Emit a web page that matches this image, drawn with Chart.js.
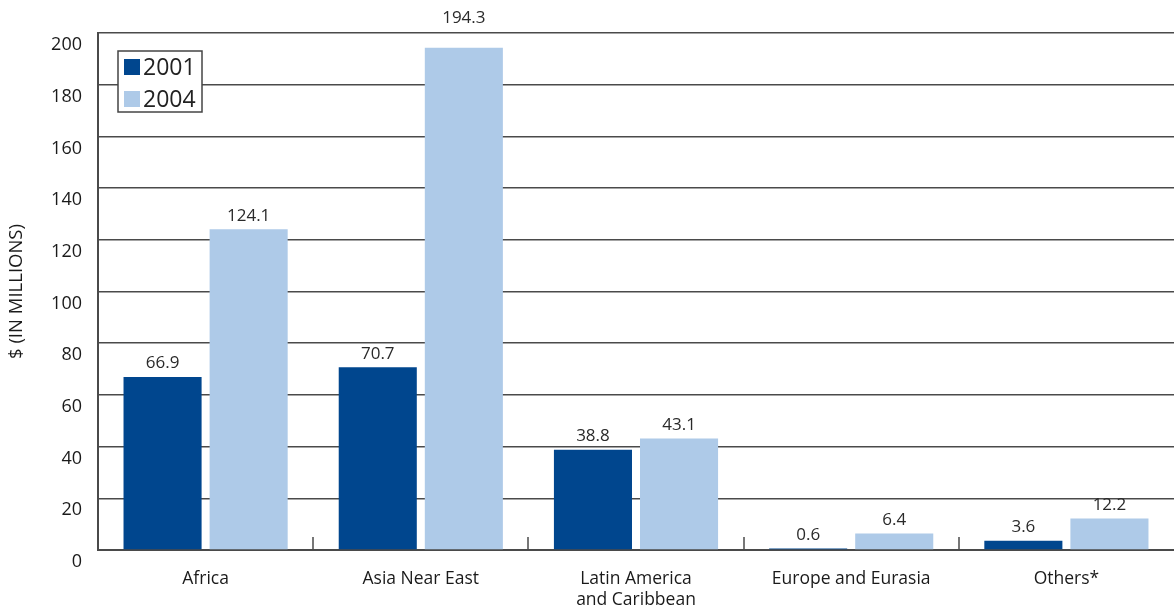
<!DOCTYPE html>
<html>
<head>
<meta charset="utf-8">
<script src="https://cdn.jsdelivr.net/npm/chart.js@4/dist/chart.umd.min.js"></script>
<style>
  html, body { margin: 0; padding: 0; background: #fff; }
  #wrap { width: 1174px; height: 612px; }
</style>
</head>
<body>
<div id="wrap"><canvas id="fundingChart"></canvas></div>
<script>
// ---- data ----
const categories = ['Africa', 'Asia Near East', ['Latin America', 'and Caribbean'], 'Europe and Eurasia', 'Others*'];
const seriesNames = ['2001', '2004'];
const values2001 = [66.9, 70.7, 38.8, 0.6, 3.6];
const values2004 = [124.1, 194.3, 43.1, 6.4, 12.2];
const yTicks = [0, 20, 40, 60, 80, 100, 120, 140, 160, 180, 200];

const FONT = '"Open Sans", "DejaVu Sans", sans-serif';
const GRID = '#4a4a4a';

// value labels above each bar (lifted above the frame when they'd hit it)
const valueLabels = {
    id: 'valueLabels',
    afterDatasetsDraw(chart) {
        const ctx = chart.ctx, area = chart.chartArea;
        ctx.save();
        ctx.font = '17px ' + FONT;
        ctx.fillStyle = '#2a2a2a';
        ctx.textAlign = 'center';
        ctx.textBaseline = 'bottom';
        chart.data.datasets.forEach((ds, i) => {
            chart.getDatasetMeta(i).data.forEach((bar, j) => {
                let y = bar.y - 5;
                if (y - 18 < area.top) y = area.top - 6;
                ctx.fillText(ds.data[j].toFixed(1), bar.x, y);
            });
        });
        ctx.restore();
    }
};

// short category separators rising from the x axis
const catTicks = {
    id: 'catTicks',
    afterDraw(chart) {
        const x = chart.scales.x, area = chart.chartArea, ctx = chart.ctx;
        const n = chart.data.labels.length;
        ctx.save();
        ctx.strokeStyle = GRID;
        ctx.lineWidth = 1.5;
        for (let i = 1; i < n; i++) {
            const px = Math.round((x.getPixelForValue(i - 1) + x.getPixelForValue(i)) / 2);
            ctx.beginPath();
            ctx.moveTo(px, area.bottom);
            ctx.lineTo(px, area.bottom - 13);
            ctx.stroke();
        }
        ctx.restore();
    }
};

// boxed legend inside the plot
const boxLegend = {
    id: 'boxLegend',
    afterDraw(chart) {
        const ctx = chart.ctx, area = chart.chartArea;
        const bx = area.left + 20, by = area.top + 18, bw = 84, bh = 61;
        ctx.save();
        ctx.fillStyle = '#fff';
        ctx.fillRect(bx, by, bw, bh);
        ctx.strokeStyle = '#444';
        ctx.lineWidth = 1.5;
        ctx.strokeRect(bx, by, bw, bh);
        ctx.font = '23px ' + FONT;
        ctx.textBaseline = 'middle';
        chart.data.datasets.forEach((ds, i) => {
            const cy = by + 16 + i * 32;
            ctx.fillStyle = ds.backgroundColor;
            ctx.fillRect(bx + 6, cy - 8, 16, 16);
            ctx.fillStyle = '#222';
            ctx.fillText(ds.label, bx + 25, cy + 1);
        });
        ctx.restore();
    }
};

new Chart(document.getElementById('fundingChart'), {
    type: 'bar',
    data: {
        labels: categories,
        datasets: [
            { label: seriesNames[0], data: values2001, backgroundColor: '#00468e' },
            { label: seriesNames[1], data: values2004, backgroundColor: '#aecae8' },
        ],
    },
    options: {
        responsive: true,
        maintainAspectRatio: false,
        animation: false,
        devicePixelRatio: 1,
        layout: { padding: { top: 33, right: 0, left: 0, bottom: 0 } },
        categoryPercentage: 0.8,
        barPercentage: 0.907,
        plugins: {
            legend: { display: false },
            tooltip: { enabled: false },
        },
        scales: {
            x: {
                grid: { display: false },
                border: { color: GRID, width: 2 },
                ticks: { font: { family: FONT, size: 17.5, lineHeight: 1.2 }, color: '#1a1a1a', padding: 11, maxRotation: 0 },
                afterFit(scale) { scale.height = 62; },
            },
            y: {
                min: 0,
                max: 200,
                afterBuildTicks(scale) { scale.ticks = yTicks.map(v => ({ value: v })); },
                grid: { color: GRID, lineWidth: 1.5, drawTicks: false },
                border: { color: GRID, width: 2 },
                ticks: { font: { family: FONT, size: 18 }, color: '#1a1a1a', padding: 16, labelOffset: 12 },
                title: {
                    display: true,
                    text: '$ (IN MILLIONS)',
                    font: { family: FONT, size: 18.5 },
                    color: '#1a1a1a',
                    padding: { top: 6, bottom: 0 },
                },
                afterFit(scale) { scale.width = 98; },
            },
        },
    },
    plugins: [valueLabels, catTicks, boxLegend],
});
</script>
</body>
</html>
